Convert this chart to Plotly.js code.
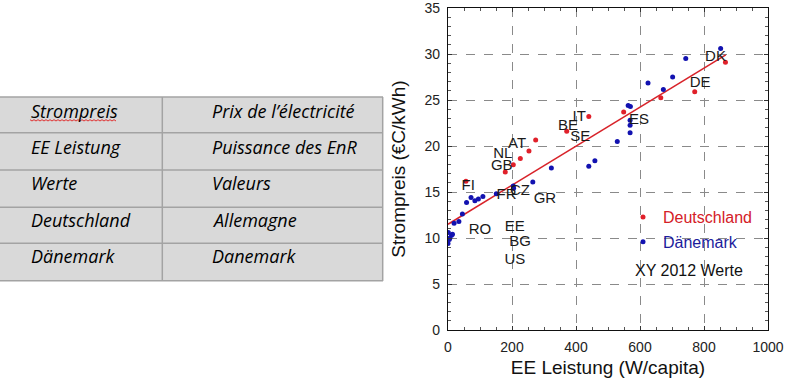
<!DOCTYPE html>
<html>
<head>
<meta charset="utf-8">
<script src="https://cdn.plot.ly/plotly-3.0.1.min.js"></script>
<style>html,body{margin:0;padding:0;background:#fff;}#chart{width:786px;height:380px;}</style>
</head>
<body>
<div id="chart"></div>
<script>
// ---- data ----
const deX = [867, 771, 665, 549, 440, 371, 274, 253, 226, 204, 179, 56];
const deY = [29.1, 25.9, 25.25, 23.7, 23.2, 21.6, 20.65, 19.45, 18.65, 17.97, 17.17, 16.16];
const dkX = [852, 743, 702, 625, 673, 563, 570, 569, 569, 569, 529, 459, 440, 323, 265, 204, 205, 151, 109, 95, 84, 72, 58, 45, 34, 19, 1, 11, 4, 0, 14, 6];
const dkY = [30.6, 29.5, 27.5, 26.85, 26.15, 24.4, 24.3, 22.8, 22.25, 21.45, 20.5, 18.4, 17.8, 17.6, 16.1, 15.65, 15.4, 14.8, 14.5, 14.25, 14.05, 14.4, 13.85, 12.6, 11.8, 11.6, 10.6, 10.3, 9.85, 9.4, 10.4, 10.0];
const fitX = [0, 868];
const fitY = [11.5, 29.9];
const countryLabels = ["DK", "DE", "IT", "BE", "SE", "ES", "AT", "NL", "GB", "FI", "FR", "CZ", "GR", "RO", "EE", "BG", "US"];
const labelX = [836, 788, 410, 375, 413, 597, 216, 171, 168, 63, 183, 225, 303, 100, 209, 225, 209];
const labelY = [29.6, 26.8, 23.1, 22.2, 20.95, 22.8, 20.2, 19.05, 17.85, 15.6, 14.7, 15.05, 14.2, 10.87, 11.2, 9.5, 7.6];
const yTicks = [0, 5, 10, 15, 20, 25, 30, 35];
const xTicks = [0, 200, 400, 600, 800, 1000];
const seriesNames = ["Deutschland", "Dänemark"];
const noteText = "XY 2012 Werte";
const xTitle = "EE Leistung (W/capita)";
const yTitle = "Strompreis (€C/kWh)";
const tableDe = ["Strompreis", "EE Leistung", "Werte", "Deutschland", "Dänemark"];
const tableFr = ["Prix de l’électricité", "Puissance des EnR", "Valeurs", "Allemagne", "Danemark"];

// ---- layout helpers (pixel -> paper) ----
const M = {l: 448, r: 18, t: 8, b: 50};
const PW = 786 - M.l - M.r, PH = 380 - M.t - M.b;
const px = x => (x - M.l) / PW;
const py = y => (380 - M.b - y) / PH;

const RED = "#e0202a", BLUE = "#1212b0";
const FONT = "Liberation Sans, Arial, sans-serif";
const TFONT = "Open Sans, Lato, sans-serif";

const traces = [
  {x: fitX, y: fitY, mode: "lines", line: {color: "#d8232a", width: 1.6}, showlegend: false, hoverinfo: "skip"},
  {x: deX, y: deY, mode: "markers", name: '<span style="color:#d42027">' + seriesNames[0] + '</span>',
   marker: {color: RED, size: 5}, legendgroup: "a"},
  {x: dkX, y: dkY, mode: "markers", name: '<span style="color:#1c1c9c">' + seriesNames[1] + '</span>',
   marker: {color: BLUE, size: 5}, legendgroup: "b"},
  {x: labelX, y: labelY, mode: "text", text: countryLabels, textfont: {family: FONT, size: 15, color: "#1a1a1a"},
   textposition: "middle center", showlegend: false, hoverinfo: "skip", cliponaxis: false}
];

// table shapes
const shapes = [];
shapes.push({type: "rect", xref: "paper", yref: "paper", x0: px(0), x1: px(383), y0: py(97), y1: py(281),
  fillcolor: "#d9d9d9", line: {width: 0}, layer: "below"});
const rowLines = [97, 132.7, 170, 207.3, 243.3, 280.7];
rowLines.forEach(y => shapes.push({type: "line", xref: "paper", yref: "paper", x0: px(0), x1: px(383), y0: py(y), y1: py(y),
  line: {color: "#a3a3a3", width: 1.5}}));
[162.3, 382.7].forEach(x => shapes.push({type: "line", xref: "paper", yref: "paper", x0: px(x), x1: px(x), y0: py(97), y1: py(281),
  line: {color: "#a3a3a3", width: 1.5}}));
// spellcheck wavy underline under "Strompreis"
let path = "";
for (let i = 0, x = 30; x <= 117; i++, x += 2) {
  const yy = 120 + (i % 2 ? 1 : -0.3);
  path += (i === 0 ? "M" : "L") + px(x) + "," + py(yy) + " ";
}
shapes.push({type: "path", xref: "paper", yref: "paper", path: path, line: {color: "#e03030", width: 1}});
// white legend backdrop (covers grid)
shapes.push({type: "rect", xref: "paper", yref: "paper", x0: px(627), x1: px(763), y0: py(204), y1: py(284),
  fillcolor: "#ffffff", line: {width: 0}, layer: "between"});

const annotations = [];
const rowCenters = [110.5, 147, 183.5, 220, 256];
tableDe.forEach((t, i) => annotations.push({xref: "paper", yref: "paper", x: px(29), y: py(rowCenters[i]),
  xanchor: "left", yanchor: "middle", showarrow: false, text: "<i>" + t + "</i>",
  font: {family: TFONT, size: 18, color: "#000"}}));
tableFr.forEach((t, i) => annotations.push({xref: "paper", yref: "paper", x: px(210), y: py(rowCenters[i]),
  xanchor: "left", yanchor: "middle", showarrow: false, text: "<i>" + t + "</i>",
  font: {family: TFONT, size: 18, color: "#000"}}));
annotations.push({xref: "paper", yref: "paper", x: px(633), y: py(270), xanchor: "left", yanchor: "middle",
  showarrow: false, text: noteText, font: {family: FONT, size: 16, color: "#111"}});

const axisCommon = {
  showline: true, linecolor: "#111", linewidth: 1.2, mirror: "allticks",
  showgrid: true, gridcolor: "#8a8a8a", griddash: "dash", gridwidth: 1,
  zeroline: false, ticks: "inside", ticklen: 4, tickcolor: "#333",
  tickfont: {family: FONT, size: 14, color: "#222"},
  automargin: false, tickmode: "array", ticklabeloverflow: "allow"
};

const layout = {
  width: 786, height: 380, margin: M,
  paper_bgcolor: "#fff", plot_bgcolor: "#fff",
  font: {family: FONT},
  xaxis: Object.assign({}, axisCommon, {range: [0, 1000], tickvals: xTicks, ticktext: xTicks.map(String),
    minor: {ticks: "inside", dtick: 50, tick0: 0, ticklen: 3, tickcolor: "#555", showgrid: false},
    ticklabelstandoff: 4,
    title: {text: xTitle, font: {family: FONT, size: 19, color: "#111"}, standoff: 6}}),
  yaxis: Object.assign({}, axisCommon, {range: [0, 35], tickvals: yTicks, ticktext: yTicks.map(String),
    minor: {ticks: "inside", dtick: 1, tick0: 0, ticklen: 3, tickcolor: "#555", showgrid: false},
    ticklabelstandoff: 4,
    title: {text: yTitle, font: {family: FONT, size: 19, color: "#111"}, standoff: 13}}),
  showlegend: true,
  legend: {x: px(623), y: py(200), xanchor: "left", yanchor: "top", bgcolor: "rgba(0,0,0,0)",
    font: {family: FONT, size: 16}, tracegroupgap: 1, itemclick: false},
  shapes: shapes,
  annotations: annotations
};

Plotly.newPlot("chart", traces, layout, {displayModeBar: false, staticPlot: true});
</script>
</body>
</html>
